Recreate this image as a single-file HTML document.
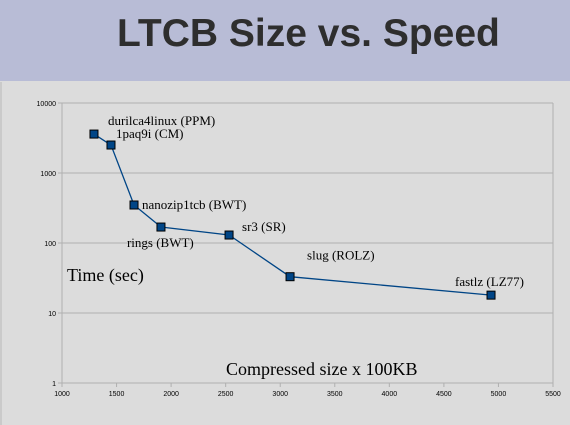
<!DOCTYPE html>
<html><head><meta charset="utf-8"><style>
body{margin:0;width:570px;height:425px;overflow:hidden;background:#dcdcdc;font-family:"Liberation Sans",sans-serif}
#hdr{position:absolute;left:0;top:0;width:570px;height:81px;background:#b8bcd6}
#title{position:absolute;left:117px;top:12px;font:bold 39px "Liberation Sans",sans-serif;color:#2e2e2e;white-space:nowrap}
svg{position:absolute;left:0;top:0}
</style></head><body>
<div id="hdr"></div>
<div id="title">LTCB Size vs. Speed</div>
<svg id="chart" width="570" height="425">
<line x1="1" y1="82" x2="1" y2="425" stroke="#b8b8b8"/>
<g id="grid"></g><g id="axes"></g><g id="series"></g><g id="labels"></g>
<text x="67" y="281" font-family="Liberation Serif,serif" font-size="18" fill="#000">Time (sec)</text>
<text x="226" y="375" font-family="Liberation Serif,serif" font-size="18" fill="#000">Compressed size x 100KB</text>
</svg>
<script>
const names=["durilca4linux (PPM)","1paq9i (CM)","nanozip1tcb (BWT)","rings (BWT)","sr3 (SR)","slug (ROLZ)","fastlz (LZ77)"];
const sizes=[1293,1449,1660,1907,2531,3090,4932];
const times=[3600,2510,349,169,130,33,18];
const xTicks=[1000,1500,2000,2500,3000,3500,4000,4500,5000,5500];
const yTicks=[1,10,100,1000,10000];
const labelOff=[[14,-9],[5,-7],[8,4],[-34,20],[13,-4],[17,-17],[-36,-9]];
const NS="http://www.w3.org/2000/svg";
const X=v=>62+(v-1000)*(491/4500);
const Y=v=>383-Math.log10(v)*70;
function mk(t,a,p){const e=document.createElementNS(NS,t);for(const k in a)e.setAttribute(k,a[k]);p.appendChild(e);return e;}
const grid=document.getElementById('grid'),axes=document.getElementById('axes'),ser=document.getElementById('series'),lab=document.getElementById('labels');
yTicks.forEach(v=>{
 const l=mk('line',{x1:58,x2:553,y1:Y(v),y2:Y(v),stroke:'#b0b0b0'},grid);
 
 
 const t=mk('text',{x:56,y:Y(v)+3,'text-anchor':'end','font-size':7,fill:'#000'},axes);t.textContent=v;
 
 
});
xTicks.forEach(v=>{
 const l=mk('line',{x1:X(v),x2:X(v),y1:383,y2:387,stroke:'#b0b0b0'},axes);
 
 
 const t=mk('text',{x:X(v),y:396,'text-anchor':'middle','font-size':7,fill:'#000'},axes);t.textContent=v;
 
 
});
const ya=mk('line',{x1:62,x2:62,y1:Y(10000),y2:383,stroke:'#b0b0b0'},axes);


const rb=mk('line',{x1:553,x2:553,y1:Y(10000),y2:383,stroke:'#b0b0b0'},axes);


const pl=mk('polyline',{points:sizes.map((s,i)=>X(s)+','+Y(times[i])).join(' '),fill:'none',stroke:'#004586','stroke-width':1.3},ser);


sizes.forEach((s,i)=>{
 const r=mk('rect',{x:X(s)-4,y:Y(times[i])-4,width:8,height:8,fill:'#004586',stroke:'#000','stroke-width':1},ser);
 
 
 const t=mk('text',{x:X(s)+labelOff[i][0],y:Y(times[i])+labelOff[i][1],'font-family':'Liberation Serif,serif','font-size':13,fill:'#000'},lab);
 t.textContent=names[i];
 
 
});
</script>
</body></html>
